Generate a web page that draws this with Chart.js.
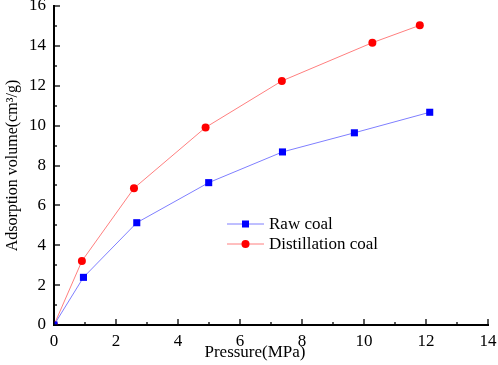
<!DOCTYPE html>
<html>
<head>
<meta charset="utf-8">
<script src="https://cdn.jsdelivr.net/npm/chart.js"></script>
<style>
  html, body { margin: 0; padding: 0; background: #fff; }
  #wrap { width: 498px; height: 365px; }
</style>
</head>
<body>
<div id="wrap"><canvas id="adsChart" width="498" height="365"></canvas></div>

<script>
  // data
  const rawPressure = [0, 0.95, 2.67, 4.99, 7.37, 9.69, 12.12];
  const rawVolume = [0, 2.39, 5.13, 7.14, 8.68, 9.64, 10.67];
  const distPressure = [0, 0.90, 2.58, 4.89, 7.35, 10.27, 11.80];
  const distVolume = [0, 3.21, 6.86, 9.91, 12.24, 14.16, 15.03];
  const seriesNames = ['Raw coal', 'Distillation coal'];
  const xTitle = 'Pressure(MPa)';
  const yTitle = 'Adsorption volume(cm³/g)';

  const toPoints = (xs, ys) => xs.map((x, i) => ({ x: x, y: ys[i] }));
  const serif = "'Liberation Serif', 'Times New Roman', serif";

  // inward ticks: long on even values, short on odd ones
  const tickPlugin = {
    id: 'innerTicks',
    afterDraw(chart) {
      const ctx = chart.ctx;
      const xs = chart.scales.x, ys = chart.scales.y;
      ctx.save();
      ctx.strokeStyle = '#000';
      ctx.lineWidth = 1.3;
      xs.ticks.forEach(t => {
        const px = Math.round(xs.getPixelForValue(t.value));
        const len = t.value % 2 === 0 ? 6 : 3;
        ctx.beginPath();
        ctx.moveTo(px, ys.bottom);
        ctx.lineTo(px, ys.bottom - len);
        ctx.stroke();
      });
      ys.ticks.forEach(t => {
        const py = Math.round(ys.getPixelForValue(t.value));
        const len = t.value % 2 === 0 ? 6 : 3;
        ctx.beginPath();
        ctx.moveTo(xs.left, py);
        ctx.lineTo(xs.left + len, py);
        ctx.stroke();
      });
      // x axis title, a little left of centre as in the figure
      ctx.fillStyle = '#000';
      ctx.font = '17px ' + serif;
      ctx.textAlign = 'center';
      ctx.textBaseline = 'middle';
      ctx.fillText(xTitle, 255, 353);
      ctx.restore();
    }
  };

  // legend inside the plot, drawn from the datasets
  const legendPlugin = {
    id: 'innerLegend',
    afterDatasetsDraw(chart) {
      const ctx = chart.ctx;
      const x0 = 227, y0 = 224, rowH = 20;
      ctx.save();
      chart.data.datasets.forEach((ds, i) => {
        const y = y0 + i * rowH;
        ctx.strokeStyle = ds.borderColor;
        ctx.lineWidth = 1;
        ctx.beginPath();
        ctx.moveTo(x0, y);
        ctx.lineTo(x0 + 37, y);
        ctx.stroke();
        ctx.fillStyle = ds.pointBackgroundColor;
        if (ds.pointStyle === 'rect') {
          ctx.fillRect(x0 + 15, y - 3.5, 7, 7);
        } else {
          ctx.beginPath();
          ctx.arc(x0 + 18.5, y, 4, 0, Math.PI * 2);
          ctx.fill();
        }
        ctx.fillStyle = '#000';
        ctx.font = '17px ' + serif;
        ctx.textBaseline = 'middle';
        ctx.fillText(ds.label, x0 + 42, y + 1);
      });
      ctx.restore();
    }
  };

  new Chart(document.getElementById('adsChart'), {
    type: 'scatter',
    data: {
      datasets: [
        {
          label: seriesNames[0],
          data: toPoints(rawPressure, rawVolume),
          showLine: true,
          borderColor: '#7f7fff',
          borderWidth: 1,
          pointStyle: 'rect',
          pointRadius: 5,
          pointBackgroundColor: '#0000ff',
          pointBorderWidth: 0
        },
        {
          label: seriesNames[1],
          data: toPoints(distPressure, distVolume),
          showLine: true,
          borderColor: '#ff7f7f',
          borderWidth: 1,
          pointStyle: 'circle',
          pointRadius: 4,
          pointBackgroundColor: '#ff0000',
          pointBorderWidth: 0
        }
      ]
    },
    options: {
      responsive: false,
      animation: false,
      layout: { padding: 0 },
      plugins: {
        legend: { display: false },
        tooltip: { enabled: false }
      },
      scales: {
        x: {
          type: 'linear',
          min: 0, max: 14,
          afterFit(s) { s.height = 40; s.paddingLeft = 0; s.paddingRight = 10; },
          ticks: {
            stepSize: 1,
            autoSkip: false,
            maxRotation: 0,
            padding: 6,
            color: '#000',
            font: { family: serif, size: 17 },
            callback: v => (v % 2 === 0 ? v : '')
          },
          grid: { display: false, drawTicks: false },
          border: { display: true, color: '#000', width: 2 }
        },
        y: {
          type: 'linear',
          min: 0, max: 16,
          afterFit(s) { s.width = 54; s.paddingTop = 6; s.paddingBottom = 0; },
          ticks: {
            stepSize: 1,
            autoSkip: false,
            padding: 8,
            color: '#000',
            font: { family: serif, size: 17 },
            callback: v => (v % 2 === 0 ? v : '')
          },
          grid: { display: false, drawTicks: false },
          border: { display: true, color: '#000', width: 2 },
          title: {
            display: true,
            text: yTitle,
            color: '#000',
            font: { family: serif, size: 16 },
            padding: { top: 3, bottom: 0 }
          }
        }
      }
    },
    plugins: [tickPlugin, legendPlugin]
  });
</script>
</body>
</html>
